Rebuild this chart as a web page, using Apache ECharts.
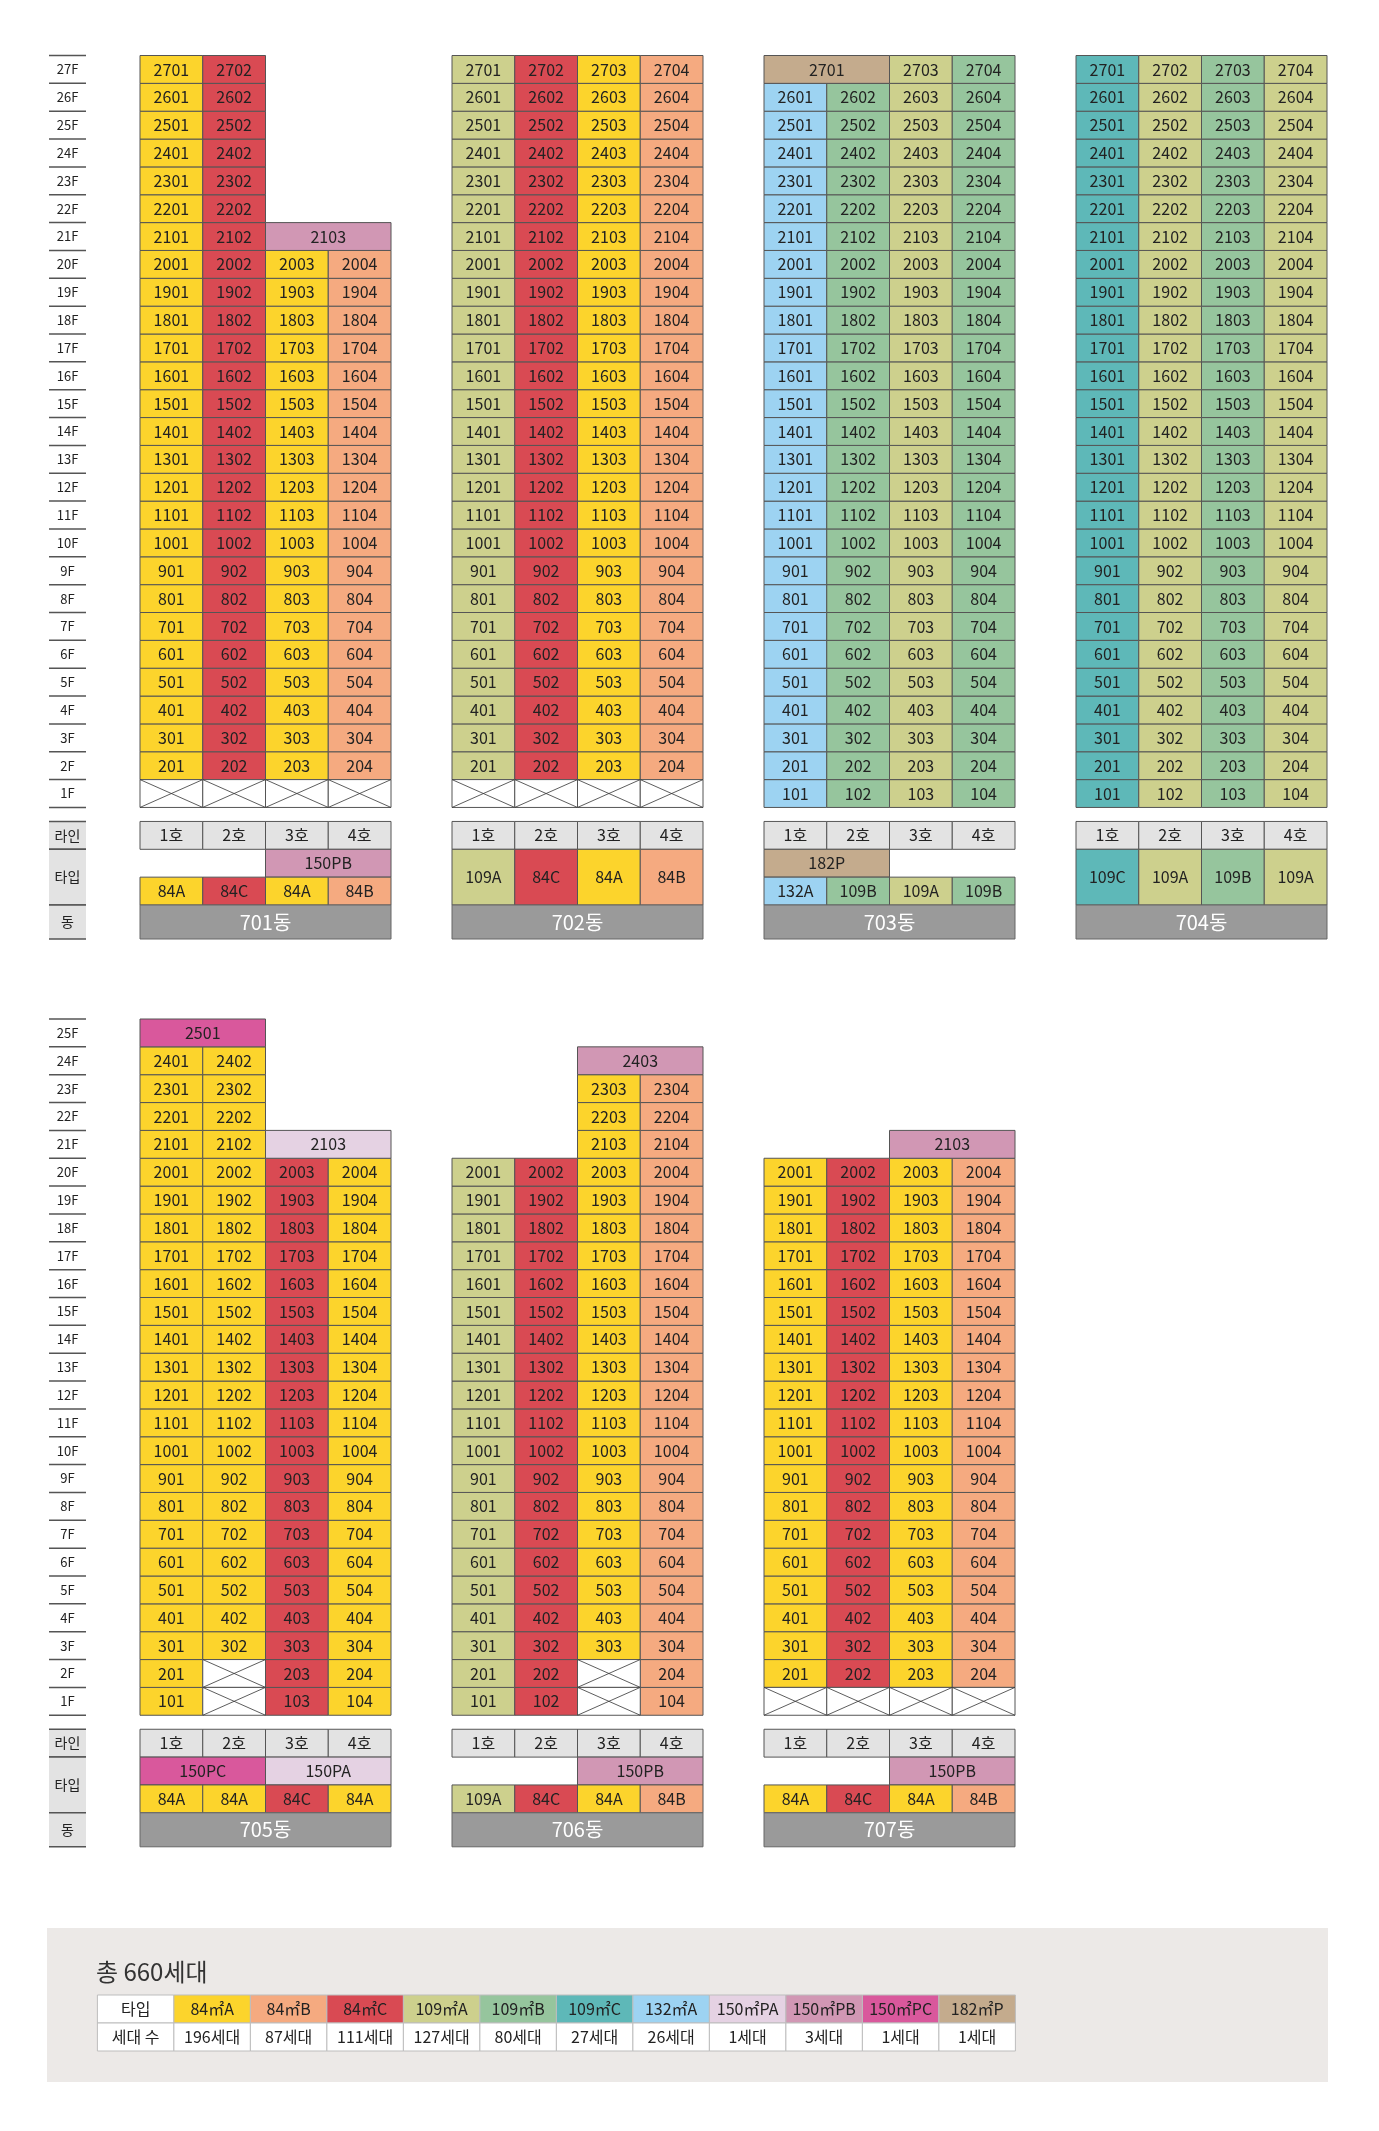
<!DOCTYPE html>
<html><head><meta charset="utf-8">
<script src="https://cdn.jsdelivr.net/npm/echarts@6/dist/echarts.min.js"></script>
<style>html,body{margin:0;padding:0;background:#fff}#c{width:1379px;height:2131px}</style>
</head><body><div id="c"></div>
<script>
// ---------- DATA ----------
const typeNames = ['84A','84B','84C','109A','109B','109C','132A','150PA','150PB','150PC','182P'];
const typeLegendLabels = ['84㎡A','84㎡B','84㎡C','109㎡A','109㎡B','109㎡C','132㎡A','150㎡PA','150㎡PB','150㎡PC','182㎡P'];
const typeCounts = [196, 87, 111, 127, 80, 27, 26, 1, 3, 1, 1];
const lineLabels = ['1호','2호','3호','4호'];
const topFloors = 27;
const bottomFloors = 25;

const b701Lines = [['84A',2,27],['84C',2,27],['84A',2,20],['84B',2,20]];
const b701Merged = [[21,2,'2103','150PB']];
const b701Crossed = [[1,0],[1,1],[1,2],[1,3]];
const b701TypeTop = [[2,'150PB']];
const b701TypeBottom = ['84A','84C','84A','84B'];

const b702Lines = [['109A',2,27],['84C',2,27],['84A',2,27],['84B',2,27]];
const b702Merged = [];
const b702Crossed = [[1,0],[1,1],[1,2],[1,3]];
const b702TypeTop = null;
const b702TypeBottom = ['109A','84C','84A','84B'];

const b703Lines = [['132A',1,26],['109B',1,26],['109A',1,27],['109B',1,27]];
const b703Merged = [[27,0,'2701','182P']];
const b703Crossed = [];
const b703TypeTop = [[0,'182P']];
const b703TypeBottom = ['132A','109B','109A','109B'];

const b704Lines = [['109C',1,27],['109A',1,27],['109B',1,27],['109A',1,27]];
const b704Merged = [];
const b704Crossed = [];
const b704TypeTop = null;
const b704TypeBottom = ['109C','109A','109B','109A'];

const b705Lines = [['84A',1,24],['84A',3,24],['84C',1,20],['84A',1,20]];
const b705Merged = [[25,0,'2501','150PC'],[21,2,'2103','150PA']];
const b705Crossed = [[2,1],[1,1]];
const b705TypeTop = [[0,'150PC'],[2,'150PA']];
const b705TypeBottom = ['84A','84A','84C','84A'];

const b706Lines = [['109A',1,20],['84C',1,20],['84A',3,23],['84B',1,23]];
const b706Merged = [[24,2,'2403','150PB']];
const b706Crossed = [[2,2],[1,2]];
const b706TypeTop = [[2,'150PB']];
const b706TypeBottom = ['109A','84C','84A','84B'];

const b707Lines = [['84A',2,20],['84C',2,20],['84A',2,20],['84B',2,20]];
const b707Merged = [[21,2,'2103','150PB']];
const b707Crossed = [[1,0],[1,1],[1,2],[1,3]];
const b707TypeTop = [[2,'150PB']];
const b707TypeBottom = ['84A','84C','84A','84B'];

const buildings = [
  ['701동',0,0,b701Lines,b701Merged,b701Crossed,b701TypeTop,b701TypeBottom],
  ['702동',0,1,b702Lines,b702Merged,b702Crossed,b702TypeTop,b702TypeBottom],
  ['703동',0,2,b703Lines,b703Merged,b703Crossed,b703TypeTop,b703TypeBottom],
  ['704동',0,3,b704Lines,b704Merged,b704Crossed,b704TypeTop,b704TypeBottom],
  ['705동',1,0,b705Lines,b705Merged,b705Crossed,b705TypeTop,b705TypeBottom],
  ['706동',1,1,b706Lines,b706Merged,b706Crossed,b706TypeTop,b706TypeBottom],
  ['707동',1,2,b707Lines,b707Merged,b707Crossed,b707TypeTop,b707TypeBottom]
];

// ---------- STYLE / LAYOUT ----------
const typeColors = {'84A':'#FCD42C','84B':'#F5AA80','84C':'#D94A53','109A':'#CDD08D','109B':'#96C59D',
  '109C':'#5EB8B8','132A':'#9DD3F2','150PA':'#E5D2E3','150PB':'#D197B4','150PC':'#D9589C','182P':'#C4AB8D'};
const FONT = '"Noto Sans CJK KR", "Noto Sans", sans-serif';
const COLW = 62.75, ROWH = 27.85;
const X0 = 140, Y0 = 55.5;
const SLOT = 312 / COLW;
const SEC_Y = [0, (1019 - Y0) / ROWH];
const LABEL_X = (49 - X0) / COLW, LABEL_W = 37 / COLW;
const GAP = 14 / ROWH;

const cells = [];
function add(o){ cells.push(o); }

const bgCell = {k:'bg', x:(47 - X0)/COLW, y:(1928 - Y0)/ROWH, w:(1328-47)/COLW, h:(2082-1928)/ROWH};
add(bgCell);

[[0, topFloors],[1, bottomFloors]].forEach(([sec, nf]) => {
  const oy = SEC_Y[sec];
  for (let f = nf; f >= 1; f--) {
    add({k:'flabel', x:LABEL_X, y:oy + (nf - f), w:LABEL_W, h:1, text:f+'F', last:f===1});
  }
  const by = oy + nf + GAP;
  add({k:'glabel', x:LABEL_X, y:by, w:LABEL_W, h:1, text:'라인'});
  add({k:'glabel', x:LABEL_X, y:by+1, w:LABEL_W, h:2, text:'타입'});
  add({k:'glabel', x:LABEL_X, y:by+3, w:LABEL_W, h:34/ROWH, text:'동'});
});

buildings.forEach(([name, sec, slot, lines, merged, crossed, tTop, tBot]) => {
  const nf = sec === 0 ? topFloors : bottomFloors;
  const ox = slot * SLOT, oy = SEC_Y[sec];
  lines.forEach(([t, from, to], col) => {
    for (let f = from; f <= to; f++) {
      add({k:'unit', x:ox+col, y:oy+(nf-f), w:1, h:1, text:String(f*100+col+1), fill:typeColors[t]});
    }
  });
  merged.forEach(([f, col, unit, t]) => add({k:'unit', x:ox+col, y:oy+(nf-f), w:2, h:1, text:unit, fill:typeColors[t]}));
  crossed.forEach(([f, col]) => add({k:'cross', x:ox+col, y:oy+(nf-f), w:1, h:1}));
  const by = oy + nf + GAP;
  lineLabels.forEach((l, col) => add({k:'unit', x:ox+col, y:by, w:1, h:1, text:l, fill:'#E3E3E3'}));
  if (tTop) {
    tTop.forEach(([col, t]) => add({k:'unit', x:ox+col, y:by+1, w:2, h:1, text:t, fill:typeColors[t]}));
    tBot.forEach((t, col) => add({k:'unit', x:ox+col, y:by+2, w:1, h:1, text:t, fill:typeColors[t]}));
  } else {
    tBot.forEach((t, col) => add({k:'unit', x:ox+col, y:by+1, w:1, h:2, text:t, fill:typeColors[t]}));
  }
  add({k:'dong', x:ox, y:by+3, w:4, h:34/ROWH, text:name});
});

const LG_X = (97.4 - X0) / COLW, LG_W = 76.5 / COLW;
const LG_Y = (1995 - Y0) / ROWH, LG_H = 28 / ROWH;
const total = typeCounts.reduce((a,b)=>a+b,0);
add({k:'title', x:(96 - X0)/COLW, y:(1972 - Y0)/ROWH, w:0, h:0, text:'총 '+total+'세대'});
add({k:'leg', x:LG_X, y:LG_Y, w:LG_W, h:LG_H, text:'타입', fill:'#fff'});
add({k:'leg', x:LG_X, y:LG_Y+LG_H, w:LG_W, h:LG_H, text:'세대 수', fill:'#fff'});
typeNames.forEach((t, i) => {
  add({k:'leg', x:LG_X+(i+1)*LG_W, y:LG_Y, w:LG_W, h:LG_H, text:typeLegendLabels[i], fill:typeColors[t]});
  add({k:'leg', x:LG_X+(i+1)*LG_W, y:LG_Y+LG_H, w:LG_W, h:LG_H, text:typeCounts[i]+'세대', fill:'#fff'});
});

function renderItem(params, api) {
  const c = cells[params.dataIndex];
  const p = api.coord([api.value(0), api.value(1)]);
  const s = api.size([api.value(2), api.value(3)]);
  const x = p[0], y = p[1], w = Math.abs(s[0]), h = Math.abs(s[1]);
  const txt = (t, size, color) => ({type:'text', style:{x:x+w/2, y:y+h/2, text:t, fill:color,
      font: size+'px '+FONT, align:'center', verticalAlign:'middle'}});
  if (c.k === 'bg') return {type:'rect', shape:{x,y,width:w,height:h}, style:{fill:'#ECE9E7'}};
  if (c.k === 'title') return {type:'text', style:{x, y, text:c.text, fill:'#333', font:'24px '+FONT, verticalAlign:'middle'}};
  if (c.k === 'flabel') {
    const ch = [{type:'line', shape:{x1:x,y1:y,x2:x+w,y2:y}, style:{stroke:'#555', lineWidth:1.5}}, txt(c.text, 13, '#222')];
    if (c.last) ch.push({type:'line', shape:{x1:x,y1:y+h,x2:x+w,y2:y+h}, style:{stroke:'#555', lineWidth:1.5}});
    return {type:'group', children:ch};
  }
  if (c.k === 'glabel') return {type:'group', children:[
    {type:'rect', shape:{x,y,width:w,height:h}, style:{fill:'#E3E3E3'}},
    {type:'line', shape:{x1:x,y1:y,x2:x+w,y2:y}, style:{stroke:'#555', lineWidth:1.5}},
    {type:'line', shape:{x1:x,y1:y+h,x2:x+w,y2:y+h}, style:{stroke:'#555', lineWidth:1.5}},
    txt(c.text, 14, '#222')]};
  if (c.k === 'cross') return {type:'group', children:[
    {type:'rect', shape:{x,y,width:w,height:h}, style:{fill:'#fff', stroke:'#555', lineWidth:1}},
    {type:'line', shape:{x1:x,y1:y,x2:x+w,y2:y+h}, style:{stroke:'#333', lineWidth:0.8}},
    {type:'line', shape:{x1:x,y1:y+h,x2:x+w,y2:y}, style:{stroke:'#333', lineWidth:0.8}}]};
  if (c.k === 'dong') return {type:'group', children:[
    {type:'rect', shape:{x,y,width:w,height:h}, style:{fill:'#9A9A9A', stroke:'#666', lineWidth:1}},
    txt(c.text, 20, '#fff')]};
  if (c.k === 'leg') return {type:'group', children:[
    {type:'rect', shape:{x,y,width:w,height:h}, style:{fill:c.fill, stroke:'#BDBDBD', lineWidth:1}},
    txt(c.text, 16, '#222')]};
  return {type:'group', children:[
    {type:'rect', shape:{x,y,width:w,height:h}, style:{fill:c.fill, stroke:'#555', lineWidth:1}},
    txt(c.text, 16, '#222')]};
}

const chart = echarts.init(document.getElementById('c'), null, {renderer:'canvas'});
chart.setOption({
  animation:false,
  grid:{left:0, right:0, top:0, bottom:0},
  xAxis:{type:'value', min:-X0/COLW, max:(1379-X0)/COLW, show:false},
  yAxis:{type:'value', inverse:true, min:-Y0/ROWH, max:(2131-Y0)/ROWH, show:false},
  series:[{type:'custom', renderItem, clip:false, silent:true,
    encode:{x:0, y:1},
    data:cells.map(c=>[c.x, c.y, c.w, c.h])}]
});
</script></body></html>
